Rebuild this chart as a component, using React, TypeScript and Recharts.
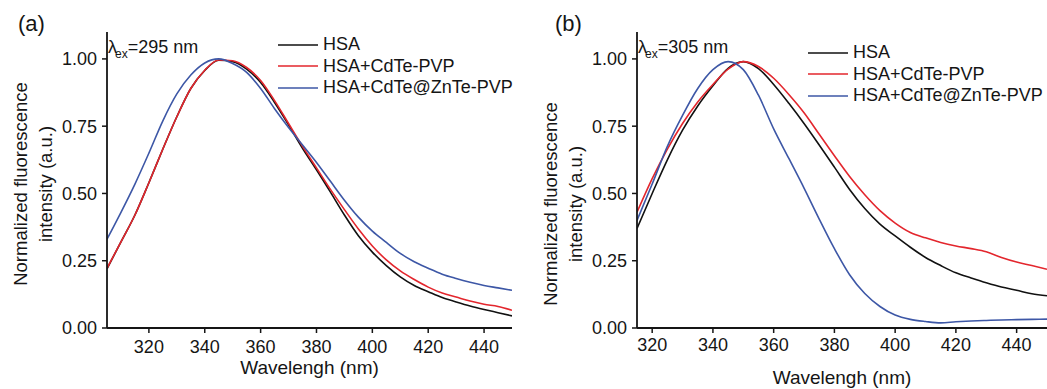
import { LineChart, Line, XAxis, YAxis } from "recharts";

// wavelengths (nm) and normalized intensities
const WL_A = [305, 310, 315, 320, 325, 330, 335, 340, 345, 350, 355, 360, 365, 370, 375, 380, 385, 390, 395, 400, 405, 410, 415, 420, 425, 430, 435, 440, 445, 450];
const HSA_A = [0.22, 0.32, 0.42, 0.54, 0.665, 0.785, 0.89, 0.957, 0.995, 0.99, 0.962, 0.912, 0.838, 0.755, 0.668, 0.588, 0.505, 0.42, 0.343, 0.282, 0.232, 0.19, 0.158, 0.135, 0.113, 0.097, 0.082, 0.069, 0.057, 0.045];
const CDTE_A = [0.222, 0.32, 0.42, 0.54, 0.665, 0.785, 0.89, 0.958, 0.996, 0.993, 0.968, 0.92, 0.845, 0.76, 0.675, 0.595, 0.515, 0.44, 0.368, 0.305, 0.253, 0.212, 0.18, 0.152, 0.13, 0.115, 0.1, 0.088, 0.08, 0.066];
const ZNTE_A = [0.33, 0.43, 0.535, 0.65, 0.77, 0.87, 0.94, 0.985, 1.0, 0.983, 0.95, 0.89, 0.815, 0.745, 0.68, 0.615, 0.545, 0.475, 0.412, 0.36, 0.318, 0.277, 0.246, 0.222, 0.2, 0.184, 0.17, 0.158, 0.149, 0.14];

const WL_B = [315, 320, 325, 330, 335, 340, 345, 350, 355, 360, 365, 370, 375, 380, 385, 390, 395, 400, 405, 410, 415, 420, 425, 430, 435, 440, 445, 450];
const HSA_B = [0.37, 0.5, 0.625, 0.735, 0.825, 0.9, 0.965, 0.99, 0.964, 0.905, 0.835, 0.76, 0.68, 0.598, 0.515, 0.444, 0.386, 0.342, 0.3, 0.262, 0.232, 0.205, 0.186, 0.168, 0.152, 0.14, 0.127, 0.12];
const CDTE_B = [0.43, 0.555, 0.665, 0.76, 0.84, 0.905, 0.962, 0.99, 0.972, 0.928, 0.868, 0.8, 0.72, 0.64, 0.563, 0.495, 0.436, 0.39, 0.355, 0.335, 0.318, 0.305, 0.295, 0.283, 0.262, 0.245, 0.232, 0.218];
const ZNTE_B = [0.4, 0.535, 0.675, 0.79, 0.89, 0.96, 0.99, 0.96, 0.865, 0.74, 0.63, 0.52, 0.405, 0.295, 0.198, 0.128, 0.08, 0.048, 0.032, 0.024, 0.019, 0.023, 0.026, 0.028, 0.03, 0.031, 0.032, 0.033];

const X_TICKS = [320, 340, 360, 380, 400, 420, 440];
const Y_TICKS = [0, 0.25, 0.5, 0.75, 1.0];
const SERIES = ["HSA", "HSA+CdTe-PVP", "HSA+CdTe@ZnTe-PVP"];
const KEYS = ["hsa", "cdte", "znte"];
const COLORS = ["#111111", "#e3262d", "#3d57a6"];

const FONT = '"Liberation Sans", Arial, Helvetica, sans-serif';
const INK = "#151515";

function buildRows(wl: number[], a: number[], b: number[], c: number[]) {
  return wl.map((w, i) => ({ wl: w, hsa: a[i], cdte: b[i], znte: c[i] }));
}

interface PanelProps {
  tag: string;
  exc: string;
  rows: { wl: number; hsa: number; cdte: number; znte: number }[];
  xMin: number;
  width: number;
  marginRight: number;
  tagLeft: number;
  yTitleShift: number;
  xTitleDy: number;
  tickGap: number;
  legendTop: number;
}

function Panel({ tag, exc, rows, xMin, width, marginRight, tagLeft, yTitleShift, xTitleDy, tickGap, legendTop }: PanelProps) {
  const axisLine = { stroke: INK, strokeWidth: 1.8 };
  const tickLine = { stroke: INK, strokeWidth: 1.5 };
  const tick = { fontSize: 18, fill: INK };

  return (
    <div style={{ position: "relative", width, height: 389 }}>
      <LineChart width={width} height={389} data={rows} margin={{ top: 32, right: marginRight, bottom: 0, left: 0 }}>
        <XAxis
          dataKey="wl"
          type="number"
          domain={[xMin, 450]}
          ticks={X_TICKS}
          allowDataOverflow
          height={61}
          tickSize={5}
          tickMargin={tickGap}
          axisLine={axisLine}
          tickLine={tickLine}
          tick={tick}
          label={(p: any) => {
            const vb = p.viewBox || { x: 107, y: 328, width: width - 107 - marginRight };
            return (
              <text x={vb.x + vb.width / 2} y={vb.y + xTitleDy} textAnchor="middle" dominantBaseline="central" fontSize={19} fill={INK}>
                Wavelengh (nm)
              </text>
            );
          }}
        />
        <XAxis xAxisId="top" orientation="top" dataKey="wl" type="number" domain={[xMin, 450]} allowDataOverflow height={0} tick={false} tickLine={false} axisLine={axisLine} />
        <YAxis
          type="number"
          domain={[0, 1.1]}
          ticks={Y_TICKS}
          allowDataOverflow
          width={107}
          tickSize={5}
          tickMargin={5}
          axisLine={axisLine}
          tickLine={tickLine}
          tick={tick}
          tickFormatter={(v: number) => v.toFixed(2)}
          label={(p: any) => {
            const vb = p.viewBox || { y: 32, height: 296 };
            const cy = vb.y + vb.height / 2 + yTitleShift;
            return (
              <g fontSize={18.5} fill={INK}>
                <text x={20} y={cy} textAnchor="middle" dominantBaseline="central" transform={`rotate(-90, 20, ${cy})`}>
                  Normalized fluorescence
                </text>
                <text x={45} y={cy} textAnchor="middle" dominantBaseline="central" transform={`rotate(-90, 45, ${cy})`}>
                  intensity (a.u.)
                </text>
              </g>
            );
          }}
        />
        <YAxis yAxisId="right" orientation="right" domain={[0, 1.1]} width={0} tick={false} tickLine={false} axisLine={axisLine} />
        {KEYS.map((k, i) => (
          <Line key={k} dataKey={k} name={SERIES[i]} type="monotone" stroke={COLORS[i]} strokeWidth={1.6} dot={false} isAnimationActive={false} />
        ))}
      </LineChart>

      <div style={{ position: "absolute", left: tagLeft, top: 13, fontSize: 22, color: INK, lineHeight: 1 }}>{tag}</div>

      <div style={{ position: "absolute", left: 108, top: 38, fontSize: 18, color: INK, lineHeight: 1, whiteSpace: "nowrap" }}>
        λ<span style={{ fontSize: 12, position: "relative", top: 5, marginLeft: -2 }}>ex</span>={exc} nm
      </div>

      <div style={{ position: "absolute", left: 278, top: legendTop, color: INK, fontSize: 18 }}>
        {SERIES.map((s, i) => (
          <div key={s} style={{ display: "flex", alignItems: "center", height: 21.5, whiteSpace: "nowrap" }}>
            <svg width={40} height={4} style={{ marginRight: 5 }}>
              <line x1={0} y1={2} x2={40} y2={2} stroke={COLORS[i]} strokeWidth={1.6} />
            </svg>
            <span>{s}</span>
          </div>
        ))}
      </div>
    </div>
  );
}

export default function App() {
  const rowsA = buildRows(WL_A, HSA_A, CDTE_A, ZNTE_A);
  const rowsB = buildRows(WL_B, HSA_B, CDTE_B, ZNTE_B);

  return (
    <div style={{ position: "absolute", left: 0, top: 0, width: 1047, height: 389, background: "#fff", fontFamily: FONT, display: "flex", overflow: "hidden" }}>
      <Panel tag="(a)" exc="295" rows={rowsA} xMin={305} width={530} marginRight={18} tagLeft={18} yTitleShift={4} xTitleDy={39} tickGap={7} legendTop={34} />
      <Panel tag="(b)" exc="305" rows={rowsB} xMin={315} width={517} marginRight={0} tagLeft={25} yTitleShift={24} xTitleDy={49} tickGap={5} legendTop={42} />
    </div>
  );
}
